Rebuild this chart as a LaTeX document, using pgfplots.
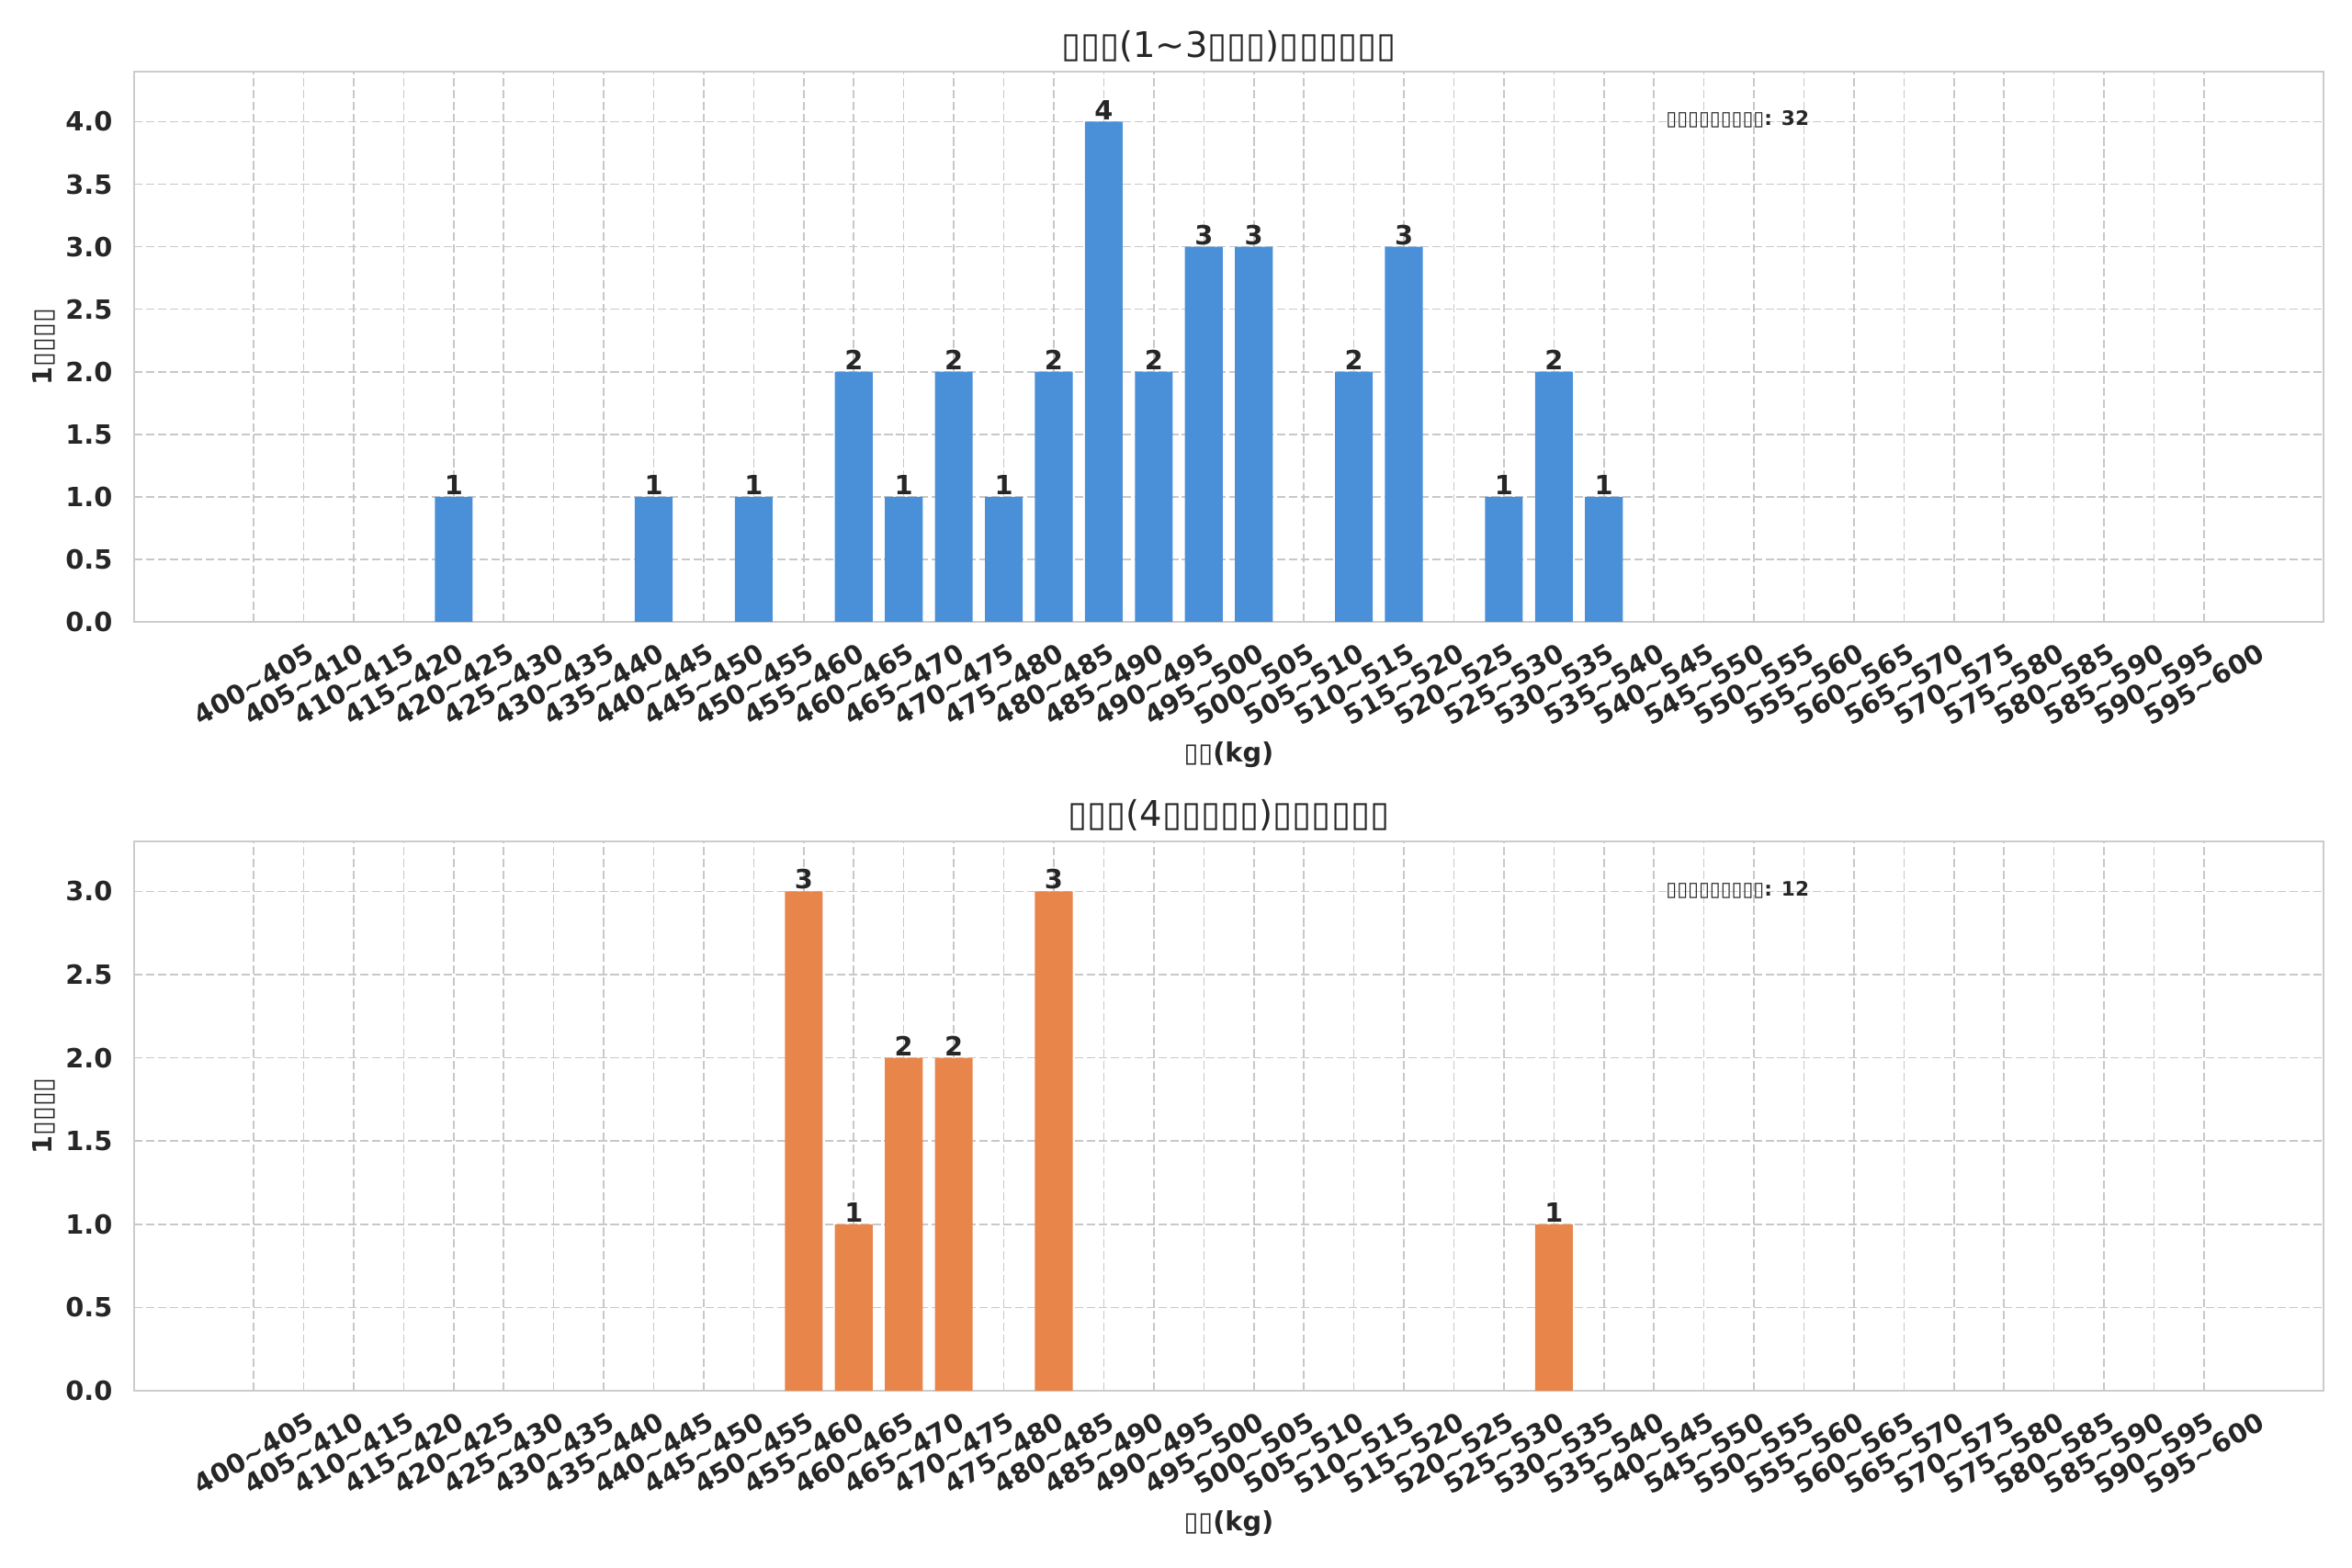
\documentclass[border=0pt]{standalone}
\usepackage{fontspec}
\setmainfont{DejaVu Sans}
\usepackage{pgfplots}
\pgfplotsset{compat=1.18}
\definecolor{barblue}{HTML}{4A90D9}
\definecolor{barorange}{HTML}{E8854A}
\definecolor{txt}{HTML}{262626}
\definecolor{framec}{HTML}{CCCCCC}
\definecolor{gridc}{HTML}{C8C8C8}
\newcommand\T{\textasciitilde}
\pgfplotsset{
  every axis title shift=0pt,
  hist/.style={
    scale only axis, width=992.92pt,
    xmin=-2.39, xmax=41.39, ymin=0,
    ybar, bar width=0.755,
    xtick={0,...,39},
    xticklabels={400\T405,405\T410,410\T415,415\T420,420\T425,425\T430,430\T435,435\T440,440\T445,445\T450,
                 450\T455,455\T460,460\T465,465\T470,470\T475,475\T480,480\T485,485\T490,490\T495,495\T500,
                 500\T505,505\T510,510\T515,515\T520,520\T525,525\T530,530\T535,535\T540,540\T545,545\T550,
                 550\T555,555\T560,560\T565,565\T570,570\T575,575\T580,580\T585,585\T590,590\T595,595\T600},
    /pgf/number format/assume math mode=true,
    tick label style={font=\bfseries\fontsize{12}{14}\selectfont, text=txt},
    xticklabel style={yshift=-28.3pt, rotate=30, anchor=center, inner sep=0pt},
    yticklabel style={anchor=east, inner sep=0pt, xshift=-9.6pt,
       /pgf/number format/.cd, fixed, fixed zerofill, precision=1},
    major tick length=0pt,
    grid=major,
    major grid style={gridc, dash pattern=on 3.8pt off 1.6pt, line width=0.65pt},
    axis line style={framec, line width=0.8pt},
    title style={font=\fontsize{16}{19}\selectfont, text=txt, anchor=center},
    xlabel style={font=\bfseries\fontsize{12}{14}\selectfont, text=txt, anchor=center,
       at={(axis description cs:0.5,-0.2423)}},
    ylabel style={font=\bfseries\fontsize{12}{14}\selectfont, text=txt, anchor=center,
       at={(axis description cs:-0.04112,0.5)}},
    xlabel={▯▯(kg)},
    ylabel={1▯▯▯▯},
    nodes near coords={\pgfmathprintnumber[fixed,precision=0]{\pgfplotspointmeta}},
    nodes near coords style={font=\bfseries\fontsize{12}{14}\selectfont, text=txt, anchor=south, inner sep=0.7pt},
    point meta=y,
  }
}
\begin{document}
\begin{tikzpicture}
\path[use as bounding box] (0,0) rectangle (1066.67pt,-711.25pt);
\begin{axis}[hist, at={(60.83pt,-282.08pt)}, anchor=south west,
  height=249.58pt, ymax=4.4, ytick={0,0.5,...,4},
  title={▯▯▯(1\T3▯▯▯)▯▯▯▯▯▯},
  title style={at={(axis description cs:0.5,1.0467)}}]
\addplot[fill=barblue, draw=none] coordinates {
 (4,1) (8,1) (10,1) (12,2) (13,1) (14,2) (15,1) (16,2) (17,4) (18,2)
 (19,3) (20,3) (22,2) (23,3) (25,1) (26,2) (27,1)};
\node[anchor=west, inner sep=0pt, font=\bfseries\fontsize{9}{11}\selectfont, text=txt]
  at (axis description cs:0.6995,0.913) {▯▯▯▯▯▯▯▯▯: 32};
\end{axis}
\begin{axis}[hist, at={(60.83pt,-630.83pt)}, anchor=south west,
  height=249.17pt, ymax=3.3, ytick={0,0.5,...,3},
  title={▯▯▯(4▯▯▯▯▯)▯▯▯▯▯▯},
  title style={at={(axis description cs:0.5,1.0485)}}]
\addplot[fill=barorange, draw=none] coordinates {
 (11,3) (12,1) (13,2) (14,2) (16,3) (26,1)};
\node[anchor=west, inner sep=0pt, font=\bfseries\fontsize{9}{11}\selectfont, text=txt]
  at (axis description cs:0.6995,0.912) {▯▯▯▯▯▯▯▯▯: 12};
\end{axis}
\end{tikzpicture}
\end{document}
